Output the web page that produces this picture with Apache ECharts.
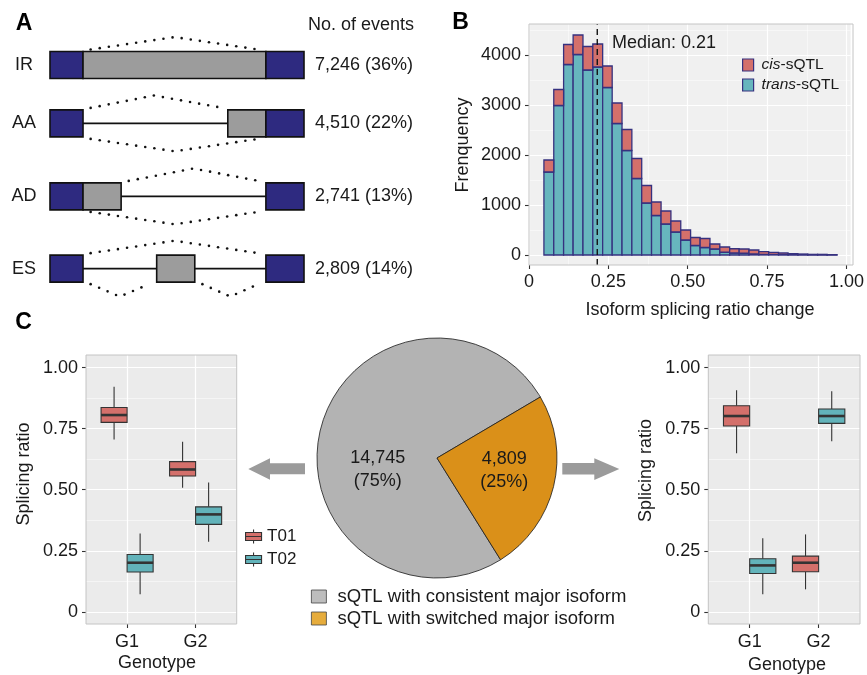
<!DOCTYPE html>
<html><head><meta charset="utf-8">
<script src="https://cdn.jsdelivr.net/npm/echarts@6/dist/echarts.min.js"></script>
<style>html,body{margin:0;padding:0;background:#fff;}#main{width:867px;height:675px;}</style>
</head><body><div id="main"></div>
<script>
// ================= DATA =================
// Panel A
const eventTypes = ['IR', 'AA', 'AD', 'ES'];
const eventCounts = [7246, 4510, 2741, 2809];
const eventPercents = [36, 22, 13, 14];

// Panel B (histogram, 30 bins)
const binEdges = [0.047, 0.078, 0.109, 0.139, 0.170, 0.201, 0.232, 0.262, 0.293, 0.324, 0.355,
  0.386, 0.416, 0.447, 0.478, 0.509, 0.539, 0.570, 0.601, 0.632, 0.662, 0.693, 0.724, 0.755,
  0.786, 0.816, 0.847, 0.878, 0.909, 0.939, 0.970];
const transCounts = [1660, 2990, 3810, 4010, 3700, 3760, 3350, 2630, 2090, 1530, 1040, 790, 620, 460, 300,
  190, 150, 120, 55, 40, 35, 20, 13, 13, 7, 6, 5, 3, 3, 2];
const cisCounts = [240, 320, 400, 390, 470, 460, 430, 410, 420, 400, 350, 270, 260, 220, 200,
  160, 180, 100, 105, 85, 85, 80, 54, 40, 33, 21, 15, 10, 10, 5];
const seriesNames = ['cis-sQTL', 'trans-sQTL'];
const medianRatio = 0.215;
const medianLabel = 'Median: 0.21';
const histXTicks = [0, 0.25, 0.5, 0.75, 1];
const histXMinor = [0.125, 0.375, 0.625, 0.875];
const histYTicks = [0, 1000, 2000, 3000, 4000];
const histYMinor = [500, 1500, 2500, 3500, 4500];

// Panel C pie
const pieNames = ['sQTL with consistent major isoform', 'sQTL with switched major isoform'];
const pieValues = [14745, 4809];

// Panel C boxplots: [low, q1, median, q3, high] for G1, G2
const genotypes = ['G1', 'G2'];
const isoforms = ['T01', 'T02'];
const ratioTicks = [0, 0.25, 0.5, 0.75, 1];
const ratioMinor = [0.125, 0.375, 0.625, 0.875];
const consistentT01 = [[0.706, 0.776, 0.806, 0.837, 0.922], [0.508, 0.556, 0.583, 0.615, 0.697]];
const consistentT02 = [[0.072, 0.163, 0.201, 0.235, 0.321], [0.287, 0.358, 0.399, 0.430, 0.530]];
const switchedT01 = [[0.649, 0.761, 0.802, 0.844, 0.908], [0.092, 0.164, 0.201, 0.228, 0.317]];
const switchedT02 = [[0.072, 0.157, 0.190, 0.217, 0.301], [0.699, 0.772, 0.802, 0.831, 0.904]];

// ================= LAYOUT / STYLE =================
const FONT = '"Liberation Sans", Arial, Helvetica, sans-serif';
const TXT = '#1a1a1a';
const NAVY = '#2E2A80';
const ALTGREY = '#9C9C9C';
const TEAL = '#67B6BE';
const RED = '#D4706B';
const BARLINE = '#36317F';
const MINOR = 'rgba(255,255,255,0.7)';

// schematic geometry in 0..100 units along the gene
const schematic = {
  IR: { parts: [[0, 13, 'exon'], [13, 85, 'alt'], [85, 100, 'exon']], arcs: [[16, 82, 49, 'up']] },
  AA: { parts: [[0, 13, 'exon'], [13, 70, 'intron'], [70, 85, 'alt'], [85, 100, 'exon']],
        arcs: [[16, 68, 41, 'up'], [16, 82, 49, 'down']] },
  AD: { parts: [[0, 13, 'exon'], [13, 28, 'alt'], [28, 85, 'intron'], [85, 100, 'exon']],
        arcs: [[31, 82, 56.5, 'up'], [16, 82, 49, 'down']] },
  ES: { parts: [[0, 13, 'exon'], [13, 42, 'intron'], [42, 57, 'alt'], [57, 85, 'intron'], [85, 100, 'exon']],
        arcs: [[16, 82, 49, 'up'], [16, 39, 27.5, 'down'], [60, 82, 71, 'down']] }
};
const rowPos = [0, 0.8, 1.8, 2.79];
const DOT_GAP = 9.2;

// dotted polyline drawn as small round dots
function dotsAlong(pts) {
  const out = [];
  let carry = 0;
  for (let k = 0; k < pts.length - 1; k++) {
    const [x0, y0] = pts[k], [x1, y1] = pts[k + 1];
    const len = Math.hypot(x1 - x0, y1 - y0);
    let d = carry;
    while (d <= len + 0.01) {
      const t = d / len;
      out.push({ type: 'circle', shape: { cx: x0 + (x1 - x0) * t, cy: y0 + (y1 - y0) * t, r: 1.3 }, style: { fill: '#111' } });
      d += DOT_GAP;
    }
    carry = d - len;
  }
  return out;
}

function schematicRender(params, api) {
  const i = params.dataIndex;
  const type = eventTypes[i];
  const s = schematic[type];
  const yc = api.coord([0, rowPos[i]])[1];
  const X = v => api.coord([v, rowPos[i]])[0];
  const h = 27, top = yc - h / 2, bot = yc + h / 2;
  let ch = [];
  s.parts.forEach(p => {
    if (p[2] === 'intron') ch.push({ type: 'line', shape: { x1: X(p[0]), y1: yc, x2: X(p[1]), y2: yc },
      style: { stroke: '#111', lineWidth: 1.6 } });
  });
  s.parts.forEach(p => {
    if (p[2] !== 'intron') ch.push({ type: 'rect',
      shape: { x: X(p[0]), y: top, width: X(p[1]) - X(p[0]), height: h },
      style: { fill: p[2] === 'exon' ? NAVY : ALTGREY, stroke: '#111', lineWidth: 1.6 } });
  });
  s.arcs.forEach(a => {
    const up = a[3] === 'up';
    const yb = up ? top - 2 : bot + 2;
    const yp = up ? top - 14.4 : bot + 14.4;
    ch = ch.concat(dotsAlong([[X(a[0]), yb], [X(a[2]), yp], [X(a[1]), yb]]));
  });
  ch.push({ type: 'text', style: { text: type, x: X(0) - 26, y: yc, align: 'center', verticalAlign: 'middle',
    font: '18px ' + FONT, fill: TXT } });
  ch.push({ type: 'text', style: { text: eventCounts[i].toLocaleString('en-US') + ' (' + eventPercents[i] + '%)',
    x: X(100) + 11, y: yc, align: 'left', verticalAlign: 'middle', font: '18px ' + FONT, fill: TXT } });
  return { type: 'group', children: ch };
}

function histRender(fill) {
  return function (params, api) {
    const p0 = api.coord([api.value(0), api.value(2)]);
    const p1 = api.coord([api.value(1), api.value(3)]);
    return { type: 'rect', shape: { x: p0[0], y: p1[1], width: p1[0] - p0[0], height: p0[1] - p1[1] },
      style: { fill: fill, stroke: BARLINE, lineWidth: 1.3 } };
  };
}

const BOX_W = 0.38, DODGE = 0.19;
function boxRender(offset, fill) {
  return function (params, api) {
    const x = api.value(0) + offset;
    const Y = v => api.coord([x, v])[1];
    const cx = api.coord([x, api.value(3)])[0];
    const half = api.size([BOX_W, 0])[0] / 2;
    const ls = { stroke: '#333', lineWidth: 1.1 };
    return { type: 'group', children: [
      { type: 'line', shape: { x1: cx, y1: Y(api.value(5)), x2: cx, y2: Y(api.value(4)) }, style: ls },
      { type: 'line', shape: { x1: cx, y1: Y(api.value(2)), x2: cx, y2: Y(api.value(1)) }, style: ls },
      { type: 'rect', shape: { x: cx - half, y: Y(api.value(4)), width: half * 2, height: Y(api.value(2)) - Y(api.value(4)) },
        style: { fill: fill, stroke: '#333', lineWidth: 1.1 } },
      { type: 'line', shape: { x1: cx - half, y1: Y(api.value(3)), x2: cx + half, y2: Y(api.value(3)) },
        style: { stroke: '#333', lineWidth: 2.6 } }
    ] };
  };
}

const labelStyle = { fontSize: 18, fontFamily: FONT, color: TXT };
function valueAxis(gridIndex, min, max, ticks, fmt, margin) {
  return { gridIndex, type: 'value', min, max,
    axisLine: { show: false, onZero: false },
    axisTick: { show: true, customValues: ticks, length: 4, lineStyle: { color: '#333', width: 1.1 } },
    axisLabel: Object.assign({ customValues: ticks, formatter: fmt, margin: margin }, labelStyle),
    splitLine: { show: true, lineStyle: { color: '#ffffff', width: 1.2 } } };
}
function minorAxis(gridIndex, min, max, ticks) {
  return { gridIndex, type: 'value', min, max,
    axisLine: { show: false, onZero: false }, axisTick: { show: false, customValues: ticks }, axisLabel: { show: false },
    splitLine: { show: true, lineStyle: { color: MINOR, width: 0.7 } } };
}
const numFmt = v => v === 0 ? '0' : v.toFixed(2);
const intFmt = v => String(v);
const genoFmt = v => genotypes[Math.round(v) - 1];

function rtext(text, x, y, opts) {
  return Object.assign({ type: 'text', x: x, y: y, z: 20,
    style: { text: text, font: '18px ' + FONT, fill: TXT, align: 'center', verticalAlign: 'middle' } }, opts || {});
}
function border(x, y, w, h) {
  return { type: 'rect', z: 20, shape: { x, y, width: w, height: h }, style: { fill: null, stroke: '#C4C4C4', lineWidth: 1 } };
}

const chart = echarts.init(document.getElementById('main'), null, { renderer: 'canvas' });
chart.setOption({
  animation: false,
  backgroundColor: '#ffffff',
  grid: [
    { left: 50, right: 563, top: 28.5, bottom: 369.1 },
    { left: 529, right: 14, top: 24, bottom: 410, show: true, backgroundColor: '#F0F0F0', borderWidth: 0 },
    { left: 86, right: 630.3, top: 355, bottom: 51, show: true, backgroundColor: '#EBEBEB', borderWidth: 0 },
    { left: 708.3, right: 7, top: 355, bottom: 51, show: true, backgroundColor: '#EBEBEB', borderWidth: 0 }
  ],
  xAxis: [
    { gridIndex: 0, type: 'value', min: 0, max: 100, show: false },
    valueAxis(1, 0, 1.013, histXTicks, numFmt, 8),
    minorAxis(1, 0, 1.013, histXMinor),
    valueAxis(2, 0.4, 2.6, [1, 2], genoFmt, 9),
    valueAxis(3, 0.4, 2.6, [1, 2], genoFmt, 9)
  ],
  yAxis: [
    { gridIndex: 0, type: 'value', min: -0.5, max: 3.3, inverse: true, show: false },
    valueAxis(1, -200, 4620, histYTicks, intFmt, 8),
    minorAxis(1, -200, 4620, histYMinor),
    valueAxis(2, -0.05, 1.052, ratioTicks, numFmt, 8),
    minorAxis(2, -0.05, 1.052, ratioMinor),
    valueAxis(3, -0.05, 1.052, ratioTicks, numFmt, 8),
    minorAxis(3, -0.05, 1.052, ratioMinor)
  ],
  legend: [
    { data: seriesNames, left: 742, top: 57, orient: 'vertical', padding: 0, itemWidth: 11, itemHeight: 12, itemGap: 4,
      icon: 'rect', itemStyle: { borderColor: BARLINE, borderWidth: 1.2 },
      formatter: n => n === 'cis-sQTL' ? '{i|cis}-sQTL' : '{i|trans}-sQTL',
      textStyle: { fontSize: 15.5, fontFamily: FONT, color: TXT, padding: [0, 0, 0, 3],
        rich: { i: { fontStyle: 'italic', fontSize: 15.5, fontFamily: FONT, color: TXT } } } },
    { data: isoforms, left: 245, top: 528, orient: 'vertical', padding: 0, itemWidth: 17, itemHeight: 14, itemGap: 6,
      icon: 'path://M8,0V3M0,3H16V11H0ZM0,7H16M8,11V14',
      itemStyle: { borderColor: '#333', borderWidth: 1.1 },
      textStyle: { fontSize: 17, fontFamily: FONT, color: TXT } },
    { data: pieNames.map((n, i) => ({ name: n, itemStyle: { color: ['#BDBDBD', '#E6AC3C'][i] } })),
      left: 311, top: 587, orient: 'vertical', padding: 0, itemWidth: 15, itemHeight: 13, itemGap: 3,
      icon: 'rect', itemStyle: { borderColor: '#444', borderWidth: 0.8 },
      textStyle: { fontSize: 18.5, fontFamily: FONT, color: TXT, padding: [0, 0, 0, 6] } }
  ],
  series: [
    { type: 'custom', name: 'schematic', xAxisIndex: 0, yAxisIndex: 0, renderItem: schematicRender, silent: true,
      data: eventTypes.map((t, i) => ({ name: t, value: [50, rowPos[i]] })) },
    { type: 'custom', name: 'trans-sQTL', xAxisIndex: 1, yAxisIndex: 1, renderItem: histRender(TEAL),
      itemStyle: { color: TEAL }, encode: { x: [0, 1], y: [2, 3] },
      data: transCounts.map((v, i) => [binEdges[i], binEdges[i + 1], 0, v]) },
    { type: 'custom', name: 'cis-sQTL', xAxisIndex: 1, yAxisIndex: 1, renderItem: histRender(RED),
      itemStyle: { color: RED }, encode: { x: [0, 1], y: [2, 3] },
      data: cisCounts.map((v, i) => [binEdges[i], binEdges[i + 1], transCounts[i], transCounts[i] + v]) },
    { type: 'line', name: 'median', xAxisIndex: 1, yAxisIndex: 1, symbol: 'none', silent: true, z: 5,
      lineStyle: { color: '#111', width: 1.4, type: [6, 4] },
      data: [[medianRatio, -200], [medianRatio, 4620]] },
    { type: 'pie', name: 'sQTL', center: [437, 458], radius: 120, startAngle: -58, clockwise: true,
      silent: true,
      itemStyle: { borderColor: '#1a1a1a', borderWidth: 0.8 },
      label: { show: true, position: 'inside', fontSize: 18, fontFamily: FONT, color: TXT, lineHeight: 23,
        formatter: p => p.value.toLocaleString('en-US') + '\n(' + Math.round(p.percent) + '%)' },
      labelLine: { show: false },
      labelLayout: p => p.dataIndex === 0 ? { dx: 2, dy: 26 } : { dx: 6, dy: -2 },
      data: pieNames.map((n, i) => ({ name: n, value: pieValues[i], itemStyle: { color: ['#B3B3B3', '#DA9019'][i] } })) },
    { type: 'custom', name: 'T01', xAxisIndex: 3, yAxisIndex: 3, renderItem: boxRender(-DODGE, RED), itemStyle: { color: RED },
      encode: { x: 0, y: [1, 2, 3, 4, 5] }, data: consistentT01.map((v, i) => [i + 1].concat(v)) },
    { type: 'custom', name: 'T02', xAxisIndex: 3, yAxisIndex: 3, renderItem: boxRender(DODGE, '#62B3BA'), itemStyle: { color: '#62B3BA' },
      encode: { x: 0, y: [1, 2, 3, 4, 5] }, data: consistentT02.map((v, i) => [i + 1].concat(v)) },
    { type: 'custom', name: 'T01', xAxisIndex: 4, yAxisIndex: 5, renderItem: boxRender(-DODGE, RED), itemStyle: { color: RED },
      encode: { x: 0, y: [1, 2, 3, 4, 5] }, data: switchedT01.map((v, i) => [i + 1].concat(v)) },
    { type: 'custom', name: 'T02', xAxisIndex: 4, yAxisIndex: 5, renderItem: boxRender(DODGE, '#62B3BA'), itemStyle: { color: '#62B3BA' },
      encode: { x: 0, y: [1, 2, 3, 4, 5] }, data: switchedT02.map((v, i) => [i + 1].concat(v)) }
  ],
  graphic: [
    rtext('A', 24, 23.5, { style: { text: 'A', font: 'bold 23px ' + FONT, fill: '#000', align: 'center', verticalAlign: 'middle' } }),
    rtext('B', 460.5, 22.5, { style: { text: 'B', font: 'bold 23px ' + FONT, fill: '#000', align: 'center', verticalAlign: 'middle' } }),
    rtext('C', 23.5, 322.8, { style: { text: 'C', font: 'bold 23px ' + FONT, fill: '#000', align: 'center', verticalAlign: 'middle' } }),
    rtext('No. of events', 308, 25, { style: { text: 'No. of events', font: '18px ' + FONT, fill: TXT, align: 'left', verticalAlign: 'middle' } }),
    rtext(medianLabel, 612, 43, { style: { text: medianLabel, font: '18px ' + FONT, fill: TXT, align: 'left', verticalAlign: 'middle' } }),
    rtext('Frenquency', 463, 145, { rotation: Math.PI / 2 }),
    rtext('Isoform splicing ratio change', 700, 310),
    rtext('Splicing ratio', 24, 474, { rotation: Math.PI / 2 }),
    rtext('Splicing ratio', 646, 470.5, { rotation: Math.PI / 2 }),
    rtext('Genotype', 157, 663.3),
    rtext('Genotype', 787, 665),
    border(529, 24, 324, 241),
    border(86, 355, 150.7, 269),
    border(708.3, 355, 151.7, 269),
    { type: 'polygon', z: 20, shape: { points: [[248.3, 469], [270, 458.3], [270, 463.3], [305, 463.3], [305, 474.3], [270, 474.3], [270, 479.7]] },
      style: { fill: '#9B9B9B' } },
    { type: 'polygon', z: 20, shape: { points: [[562.3, 463], [594.3, 463], [594.3, 458.3], [619.3, 469], [594.3, 480], [594.3, 474.5], [562.3, 474.5]] },
      style: { fill: '#9B9B9B' } }
  ]
});
</script></body></html>
